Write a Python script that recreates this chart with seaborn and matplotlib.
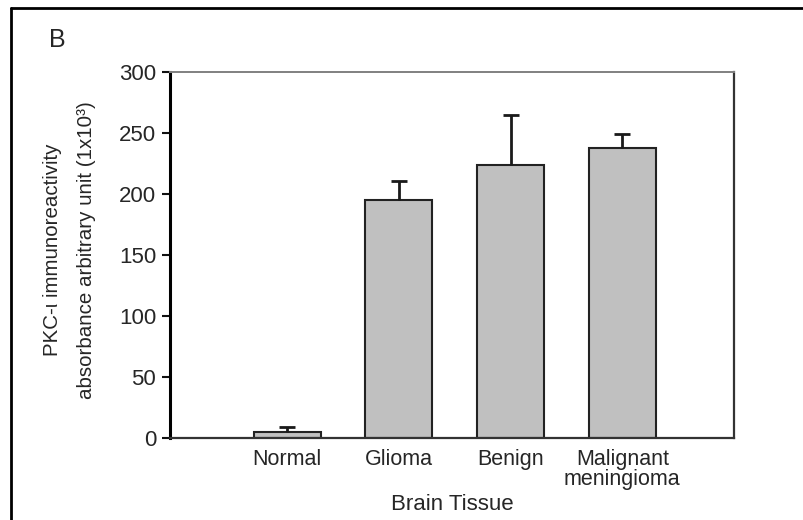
import numpy as np
import matplotlib
matplotlib.use("Agg")
import matplotlib.pyplot as plt
import seaborn as sns

# data
categories = ["Normal", "Glioma", "Benign", "Malignant\nmeningioma"]
values = [5, 195, 224, 238]
errors = [4, 16, 41, 11]
yticks = [0, 50, 100, 150, 200, 250, 300]

sns.set_style("white")
plt.rcParams["font.family"] = ["Liberation Sans", "DejaVu Sans"]

fig = plt.figure(figsize=(8.04, 5.2), dpi=100)
ax = fig.add_axes([170 / 804, 1 - 438 / 520, 564 / 804, 366 / 520])

sns.barplot(x=categories, y=values, color="#c0c0c0", edgecolor="#222222",
            linewidth=1.5, width=0.6, saturation=1, ax=ax)
eb = ax.errorbar(range(len(values)), values,
                 yerr=[np.zeros(len(errors)), errors],
                 fmt="none", ecolor="#1a1a1a", elinewidth=2, capsize=5.5,
                 capthick=2)
# only the upper caps are drawn in the original
eb[1][0].set_visible(False)

ax.set_xlim(-1.05, 4.0)
ax.set_ylim(0, 300)
ax.set_yticks(yticks)
ax.tick_params(axis="y", direction="out", length=6, width=1.5,
               labelsize=16, pad=4, left=True, color="#111111")
ax.tick_params(axis="x", length=0, labelsize=15.5, pad=8)
for lbl in ax.get_xticklabels():
    lbl.set_linespacing(0.95)

for side, col, lw in [("left", "#000000", 2.2), ("bottom", "#333333", 1.6),
                      ("top", "#808080", 1.4), ("right", "#333333", 1.6)]:
    ax.spines[side].set_visible(True)
    ax.spines[side].set_color(col)
    ax.spines[side].set_linewidth(lw)

ax.set_xlabel("Brain Tissue", fontsize=16, labelpad=3)
ax.set_ylabel("")
fig.text(70 / 804, 1 - 250 / 520,
         "PKC-ι immunoreactivity\nabsorbance arbitrary unit (1x10³)",
         rotation=90, ha="center", va="center", fontsize=14.8,
         multialignment="center", linespacing=2.0)

fig.text(57 / 804, 1 - 40 / 520, "B", ha="center", va="center", fontsize=18)

# outer panel frame
fig.add_artist(plt.Line2D([11 / 804, 11 / 804], [0, 1 - 8 / 520],
                          transform=fig.transFigure, color="black", lw=2))
fig.add_artist(plt.Line2D([11 / 804, 1], [1 - 8 / 520, 1 - 8 / 520],
                          transform=fig.transFigure, color="black", lw=2))

fig.savefig("out.png", dpi=100)
